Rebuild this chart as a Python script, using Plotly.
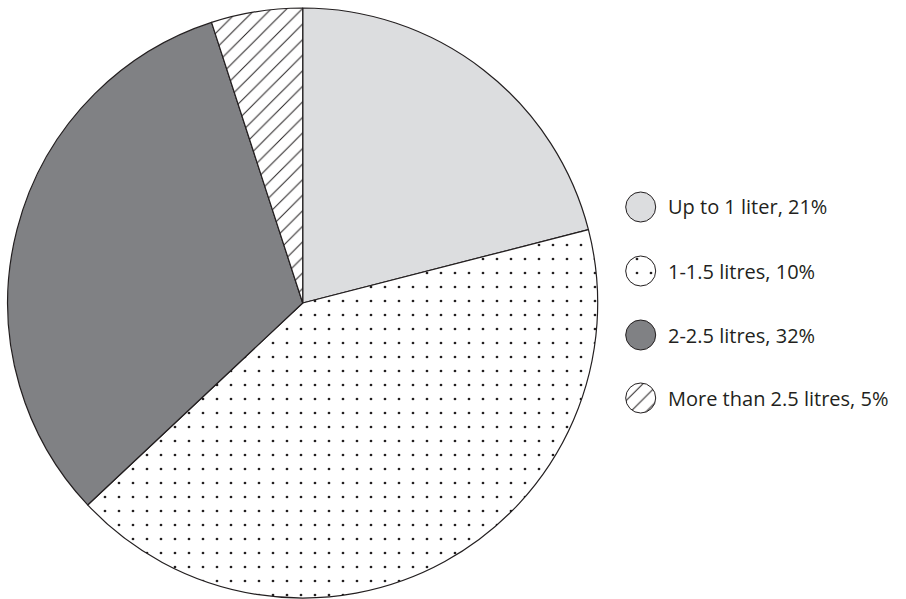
import plotly.graph_objects as go

# ---- data ----
categories = ["Up to 1 liter", "1-1.5 litres", "2-2.5 litres", "More than 2.5 litres"]
slice_values = [21, 42, 32, 5]
legend_labels = ["Up to 1 liter, 21%", "1-1.5 litres, 10%", "2-2.5 litres, 32%",
                 "More than 2.5 litres, 5%"]

# ---- styles ----
W, H = 906, 599
INK = "#231f20"
fill_colors = ["#dcdddf", "#ffffff", "#808184", "#ffffff"]
pattern_shapes = ["", ".", "", "/"]
pattern_sizes = [8, 14, 8, 11]
pattern_solidity = [0.2, 0.03, 0.2, 0.09]

# main pie geometry (pixels)
cx, cy, R = 302.7, 303.0, 295.0

fig = go.Figure()
fig.add_trace(go.Pie(
    labels=categories,
    values=slice_values,
    sort=False,
    direction="clockwise",
    rotation=0,
    textinfo="none",
    hoverinfo="label+value",
    showlegend=False,
    marker=dict(
        colors=fill_colors,
        line=dict(color=INK, width=1.2),
        pattern=dict(shape=pattern_shapes, size=pattern_sizes,
                     solidity=pattern_solidity, fgcolor=INK,
                     bgcolor=fill_colors, fillmode="replace"),
    ),
    domain=dict(x=[(cx - R) / W, (cx + R) / W],
                y=[(H - cy - R) / H, (H - cy + R) / H]),
))

# legend: tiny one-slice pies as circular swatches
lx, lr = 640.7, 15.0
ly = [207, 271, 335, 398]
text_x = 666
for i, lab in enumerate(legend_labels):
    fig.add_trace(go.Pie(
        labels=[categories[i]],
        values=[1],
        textinfo="none",
        hoverinfo="skip",
        showlegend=False,
        sort=False,
        marker=dict(
            colors=[fill_colors[i]],
            line=dict(color=INK, width=1),
            pattern=dict(shape=[pattern_shapes[i]], size=[pattern_sizes[i]],
                         solidity=[pattern_solidity[i]], fgcolor=INK,
                         bgcolor=[fill_colors[i]], fillmode="replace"),
        ),
        domain=dict(x=[(lx - lr) / W, (lx + lr) / W],
                    y=[(H - ly[i] - lr) / H, (H - ly[i] + lr) / H]),
    ))
    fig.add_annotation(
        x=text_x / W, y=(H - ly[i]) / H, xref="paper", yref="paper",
        text=lab, showarrow=False, xanchor="left", yanchor="middle",
        font=dict(family="Open Sans", size=20, color=INK),
    )

fig.update_layout(
    width=W, height=H,
    margin=dict(l=0, r=0, t=0, b=0),
    paper_bgcolor="white", plot_bgcolor="white",
    showlegend=False,
)

fig.write_html("out.html")
